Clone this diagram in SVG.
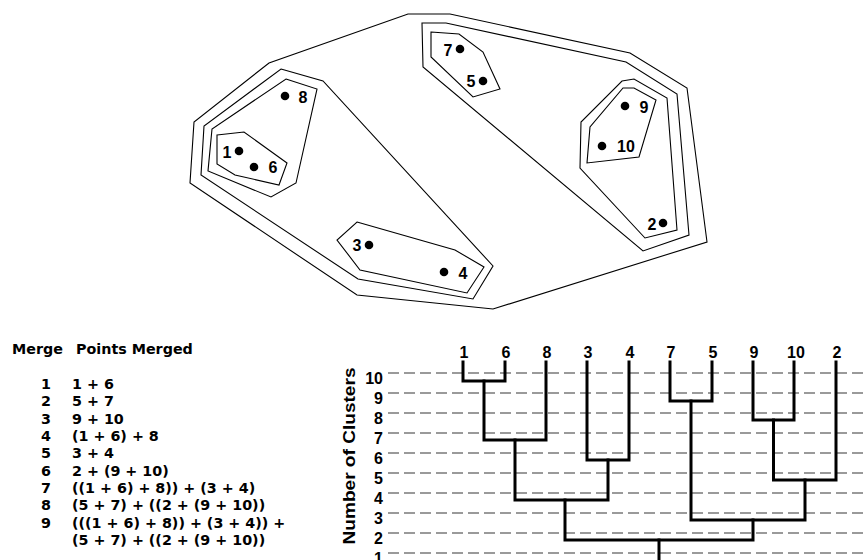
<svg xmlns="http://www.w3.org/2000/svg" width="864" height="560" viewBox="0 0 864 560">
  <style>
    .hull { fill: none; stroke: #000; stroke-width: 1.1; stroke-linejoin: miter; }
    .dot { fill: #000; }
    .plbl { font-family: "Liberation Sans", Arial, sans-serif; font-weight: bold; font-size: 16px; fill: #000; text-anchor: middle; }
    .tbl { font-family: "DejaVu Sans", Verdana, sans-serif; font-weight: bold; font-size: 14.3px; fill: #000; }
    .grid { stroke: #7a7a7a; stroke-width: 1.4; stroke-dasharray: 11 5; fill: none; }
    .tree { stroke: #000; stroke-width: 3; fill: none; stroke-linecap: square; }
    .leaf { font-family: "Liberation Sans", Arial, sans-serif; font-weight: bold; font-size: 16px; fill: #000; text-anchor: middle; }
    .axn { font-family: "Liberation Sans", Arial, sans-serif; font-weight: bold; font-size: 16px; fill: #000; text-anchor: end; }
    .axt { font-family: "Liberation Sans", Arial, sans-serif; font-weight: bold; font-size: 16px; fill: #000; text-anchor: middle; }
  </style>

  <!-- Nested cluster hulls -->
  <g id="hulls">
    <polygon class="hull" points="408,14 450,14 630,53 687,88 707,242 493,309 357,295 190,183 194,122 269,63"/>
    <polygon class="hull" points="281,69 323,81 493,266 473,299 358,279 201,175 204,126"/>
    <polygon class="hull" points="286,79 317,89 296,183 271,197 208,171 212,129"/>
    <polygon class="hull" points="217,135 244,132 287,163 279,185 235,175 217,164"/>
    <polygon class="hull" points="357,222 455,250 484,267 467,293 360,270 337,240"/>
    <polygon class="hull" points="422,23 446,23 626,62 677,94 689,235 643,251 423,67"/>
    <polygon class="hull" points="431,32 459,34 483,52 500,89 473,97 431,57"/>
    <polygon class="hull" points="622,81 634,79 667,98 677,230 645,238 580,168 581,122"/>
    <polygon class="hull" points="623,88 634,88 656,100 639,157 587,163 590,127"/>
  </g>

  <!-- Data points -->
  <g id="p1"><circle class="dot" cx="239" cy="151" r="4.3"/><text class="plbl" x="227" y="158">1</text></g>
  <g id="p2"><circle class="dot" cx="663" cy="223" r="4.3"/><text class="plbl" x="652" y="230">2</text></g>
  <g id="p3"><circle class="dot" cx="369" cy="245" r="4.3"/><text class="plbl" x="357" y="251">3</text></g>
  <g id="p4"><circle class="dot" cx="444" cy="272" r="4.3"/><text class="plbl" x="463" y="279">4</text></g>
  <g id="p5"><circle class="dot" cx="483" cy="81" r="4.3"/><text class="plbl" x="471" y="87">5</text></g>
  <g id="p6"><circle class="dot" cx="254" cy="167" r="4.3"/><text class="plbl" x="273" y="173">6</text></g>
  <g id="p7"><circle class="dot" cx="460" cy="49" r="4.3"/><text class="plbl" x="448" y="56">7</text></g>
  <g id="p8"><circle class="dot" cx="285" cy="96" r="4.3"/><text class="plbl" x="303" y="103">8</text></g>
  <g id="p9"><circle class="dot" cx="625" cy="106" r="4.3"/><text class="plbl" x="644" y="113">9</text></g>
  <g id="p10"><circle class="dot" cx="602" cy="146" r="4.3"/><text class="plbl" x="626" y="152">10</text></g>

  <!-- Merge table -->
  <g id="merge-table">
    <text class="tbl" x="12" y="354">Merge</text>
    <text class="tbl" x="76" y="354">Points Merged</text>
    <text class="tbl" x="41" y="389">1</text><text class="tbl" x="72" y="389">1 + 6</text>
    <text class="tbl" x="41" y="406.3">2</text><text class="tbl" x="72" y="406.3">5 + 7</text>
    <text class="tbl" x="41" y="423.7">3</text><text class="tbl" x="72" y="423.7">9 + 10</text>
    <text class="tbl" x="41" y="441">4</text><text class="tbl" x="72" y="441">(1 + 6) + 8</text>
    <text class="tbl" x="41" y="458.3">5</text><text class="tbl" x="72" y="458.3">3 + 4</text>
    <text class="tbl" x="41" y="475.7">6</text><text class="tbl" x="72" y="475.7">2 + (9 + 10)</text>
    <text class="tbl" x="41" y="493">7</text><text class="tbl" x="72" y="493">((1 + 6) + 8)) + (3 + 4)</text>
    <text class="tbl" x="41" y="510.3">8</text><text class="tbl" x="72" y="510.3">(5 + 7) + ((2 + (9 + 10))</text>
    <text class="tbl" x="41" y="527.7">9</text><text class="tbl" x="72" y="527.7">(((1 + 6) + 8)) + (3 + 4)) +</text>
    <text class="tbl" x="72" y="545">(5 + 7) + ((2 + (9 + 10))</text>
  </g>

  <!-- Dendrogram axis -->
  <g id="axis">
    <text class="axt" transform="translate(355,456) rotate(-90)" textLength="177" lengthAdjust="spacingAndGlyphs">Number of Clusters</text>
    <text class="axn" x="383" y="384">10</text>
    <text class="axn" x="383" y="404">9</text>
    <text class="axn" x="383" y="424">8</text>
    <text class="axn" x="383" y="444">7</text>
    <text class="axn" x="383" y="464">6</text>
    <text class="axn" x="383" y="484">5</text>
    <text class="axn" x="383" y="504">4</text>
    <text class="axn" x="383" y="524">3</text>
    <text class="axn" x="383" y="544">2</text>
    <text class="axn" x="383" y="564">1</text>
  </g>

  <g id="gridlines">
    <line class="grid" x1="388" y1="373" x2="864" y2="373"/>
    <line class="grid" x1="388" y1="393" x2="864" y2="393"/>
    <line class="grid" x1="388" y1="413" x2="864" y2="413"/>
    <line class="grid" x1="388" y1="433" x2="864" y2="433"/>
    <line class="grid" x1="388" y1="453" x2="864" y2="453"/>
    <line class="grid" x1="388" y1="473" x2="864" y2="473"/>
    <line class="grid" x1="388" y1="493" x2="864" y2="493"/>
    <line class="grid" x1="388" y1="513" x2="864" y2="513"/>
    <line class="grid" x1="388" y1="533" x2="864" y2="533"/>
    <line class="grid" x1="388" y1="553" x2="864" y2="553"/>
  </g>

  <!-- Leaves -->
  <g id="leaf1"><text class="leaf" x="464" y="358">1</text></g>
  <g id="leaf6"><text class="leaf" x="506" y="358">6</text></g>
  <g id="leaf8"><text class="leaf" x="547" y="358">8</text></g>
  <g id="leaf3"><text class="leaf" x="588" y="358">3</text></g>
  <g id="leaf4"><text class="leaf" x="630" y="358">4</text></g>
  <g id="leaf7"><text class="leaf" x="671" y="358">7</text></g>
  <g id="leaf5"><text class="leaf" x="713" y="358">5</text></g>
  <g id="leaf9"><text class="leaf" x="754" y="358">9</text></g>
  <g id="leaf10"><text class="leaf" x="796" y="358">10</text></g>
  <g id="leaf2"><text class="leaf" x="837" y="358">2</text></g>

  <!-- Dendrogram links -->
  <g id="connectors">
    <path class="tree" d="M463,362 V381 H505 V362"/>
    <path class="tree" d="M670,362 V401 H712 V362"/>
    <path class="tree" d="M753,362 V420 H794 V362"/>
    <path class="tree" d="M484,381 V440 H546 V362"/>
    <path class="tree" d="M587,362 V460 H629 V362"/>
    <path class="tree" d="M773.5,420 V480 H836 V362"/>
    <path class="tree" d="M515,440 V500 H608 V460"/>
    <path class="tree" d="M691,401 V520 H805 V480"/>
    <path class="tree" d="M565,500 V540 H753 V520"/>
    <path class="tree" d="M659,540 V562"/>
  </g>
</svg>
